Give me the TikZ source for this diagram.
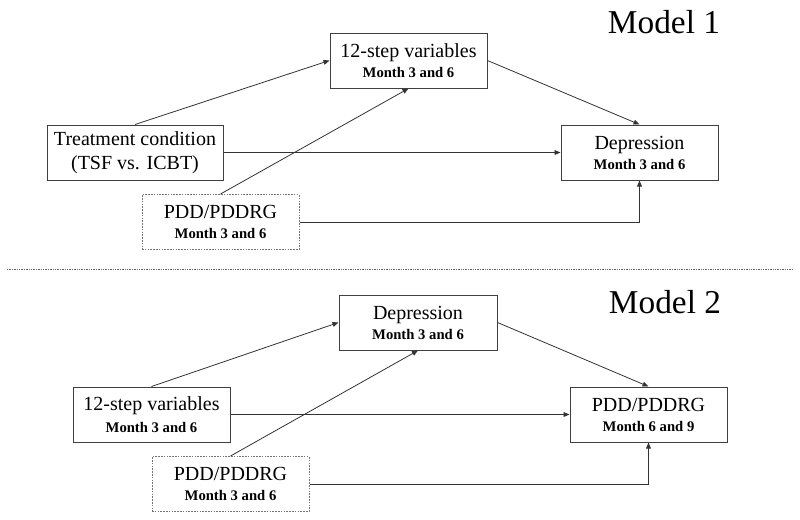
\documentclass[tikz,border=0pt]{standalone}
\usepackage{fontspec}
\setmainfont{Liberation Serif}
\usetikzlibrary{arrows.meta}
\newcommand{\mth}[1]{{\fontsize{11}{12}\selectfont\bfseries #1}}

\begin{document}
\begin{tikzpicture}[x=.75pt,y=-.75pt,
	box/.style={draw=black!75,line width=.75pt,inner sep=0pt,minimum height=55*.75pt,minimum width=157*.75pt,align=center,font=\fontsize{15}{18}\selectfont},
	dbox/.style={box,draw=black!55,dash pattern=on 1.2pt off .9pt},
	conn/.style={draw=black!80,line width=.6pt,-{Triangle[length=4.5pt,width=3.6pt]}},
	title/.style={anchor=base,font=\fontsize{25}{30}\selectfont}]
	\useasboundingbox (0,0) rectangle (800,519);
	%		\draw [thin,densely dashed](0,0)grid(800,519);
	
	% model 1
	\node[title] (m1) at (664,33) {Model 1};
	\node[box] (st1) at (408.5,60.5) {12-step variables\\[-3pt]\mth{Month 3 and 6}};
	\node[box,minimum width=176*.75pt] (tc1) at (135,152.5) {Treatment condition\\(TSF vs. ICBT)};
	\node[box] (dp1) at (639.5,152.5) {Depression\\[-3pt]\mth{Month 3 and 6}};
	\node[dbox] (pd1) at (220.5,222) {PDD/PDDRG\\[-3pt]\mth{Month 3 and 6}};
	\draw[conn] (tc1.north) -- (st1.west);
	\draw[conn] (st1.east) -- (dp1.north);
	\draw[conn] (tc1.east) -- (dp1.west);
	\draw[conn] (pd1.north) -- (st1.south);
	\draw[conn] (pd1.east) -| (dp1.south);
	
	\coordinate (sl) at (7,269);
	\coordinate (sr) at (793,269);
	\draw[black!60,line width=.6pt,dash pattern=on 1pt off .8pt] (sl) -- (sr);
	
	% model 2
	\node[title] (m2) at (665,313) {Model 2};
	\node[box,minimum width=158*.75pt] (dp2) at (418,322.5) {Depression\\[-3pt]\mth{Month 3 and 6}};
	\node[box] (st2) at (151.5,414.5) {12-step variables\\[-2pt]\mth{Month 3 and 6}};
	\node[box] (pr2) at (648.5,414.5) {PDD/PDDRG\\[-3pt]\mth{Month 6 and 9}};
	\node[dbox] (pd2) at (230.5,484) {PDD/PDDRG\\[-3pt]\mth{Month 3 and 6}};
	\draw[conn] (st2.north) -- (dp2.west);
	\draw[conn] (dp2.east) -- (pr2.north);
	\draw[conn] (st2.east) -- (pr2.west);
	\draw[conn] (pd2.north) -- (dp2.south);
	\draw[conn] (pd2.east) -| (pr2.south);
	
\end{tikzpicture}
\end{document}
